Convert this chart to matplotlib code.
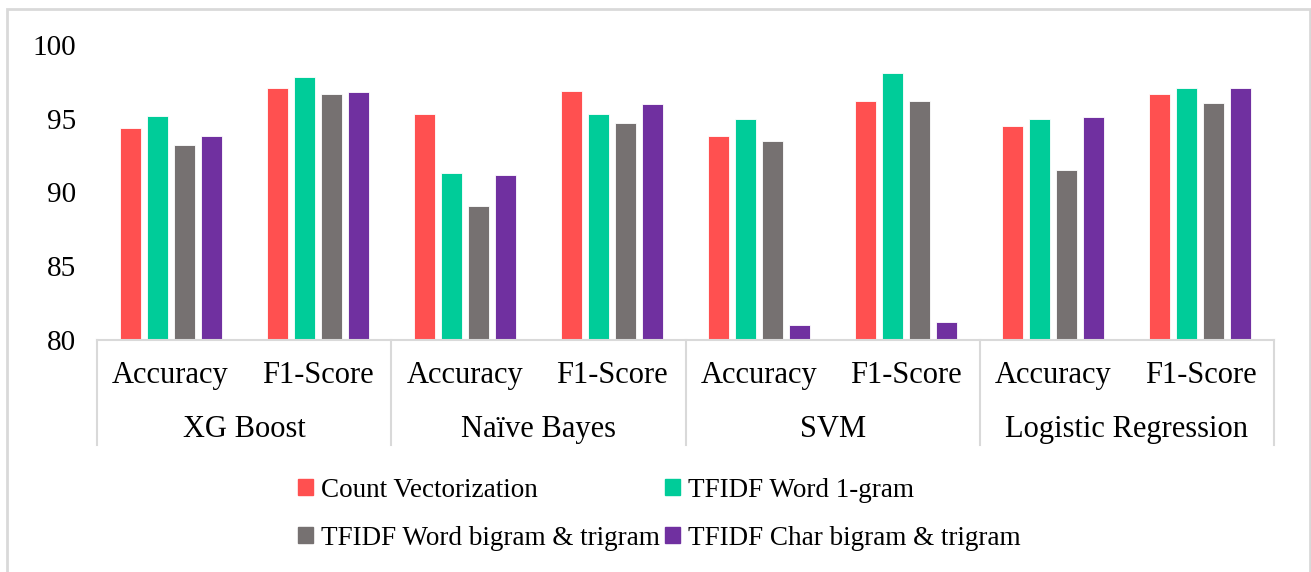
import matplotlib.pyplot as plt
import matplotlib.patches as mpatches
import numpy as np

plt.rcParams['font.family'] = ['Liberation Serif', 'DejaVu Serif']

models = ['XG Boost', 'Naïve Bayes', 'SVM', 'Logistic Regression']
metrics = ['Accuracy', 'F1-Score']
series = ['Count Vectorization', 'TFIDF Word 1-gram',
          'TFIDF Word bigram & trigram', 'TFIDF Char bigram & trigram']
colors = ['#FF5050', '#00CC99', '#767171', '#7030A0']

# values per series, ordered model by model (Accuracy, F1-Score)
count_vec = [94.4, 97.1, 95.35, 96.9, 93.8, 96.2, 94.5, 96.7]
word_1gram = [95.2, 97.8, 91.3, 95.35, 95.0, 98.1, 95.0, 97.1]
word_bi_tri = [93.2, 96.7, 89.1, 94.7, 93.5, 96.2, 91.5, 96.1]
char_bi_tri = [93.8, 96.8, 91.2, 96.0, 81.0, 81.2, 95.1, 97.1]
data = [count_vec, word_1gram, word_bi_tri, char_bi_tri]

fig = plt.figure(figsize=(13.11, 5.72), dpi=100)
ax = fig.add_axes([97/1311, 1-340/572, (1274-97)/1311, 295/572])

x = np.arange(len(models) * len(metrics))
step = 0.1835
w = 0.143
for i, vals in enumerate(data):
    ax.bar(x + (i - 1.5) * step, np.array(vals) - 80, bottom=80, width=w,
           color=colors[i], edgecolor='white', linewidth=0.6, label=series[i])

ax.set_ylim(80, 100)
ax.set_xlim(-0.5, len(x) - 0.5)
ax.set_yticks([80, 85, 90, 95, 100])
ax.tick_params(axis='y', length=0, labelsize=21, pad=15)
ax.tick_params(axis='x', length=0, labelbottom=False)
for s in ['top', 'right', 'left']:
    ax.spines[s].set_visible(False)
ax.spines['bottom'].set_color('#D9D9D9')
ax.spines['bottom'].set_linewidth(1.5)

# two-level category axis
tr = ax.get_xaxis_transform()
for k in x:
    ax.text(k, -0.122, metrics[k % 2], transform=tr, ha='center', va='center',
            fontsize=22)
for g, m in enumerate(models):
    ax.text(2 * g + 0.5, -0.305, m, transform=tr, ha='center', va='center',
            fontsize=22)
for b in np.arange(-0.5, len(x), 2):
    ax.plot([b, b], [0, -0.356], transform=tr, color='#D9D9D9', lw=1.5,
            clip_on=False)

# legend filled column by column, so reorder to get rows as in the original
order = [0, 2, 1, 3]
handles = [mpatches.Patch(color=colors[i]) for i in order]
labels = [series[i] for i in order]
fig.legend(handles, labels, ncol=2, loc='center', bbox_to_anchor=(0.503, 0.101),
           frameon=False, fontsize=19.5, handlelength=0.55, handleheight=0.55,
           handletextpad=0.3, columnspacing=0.2, labelspacing=0.85)

fig.patches.append(mpatches.Rectangle((7/1311, -0.1), (1310-7)/1311, 1.1 - 9/572,
                                      transform=fig.transFigure, fill=False,
                                      edgecolor='#D9D9D9', lw=2))

fig.savefig('out.png', dpi=100)
